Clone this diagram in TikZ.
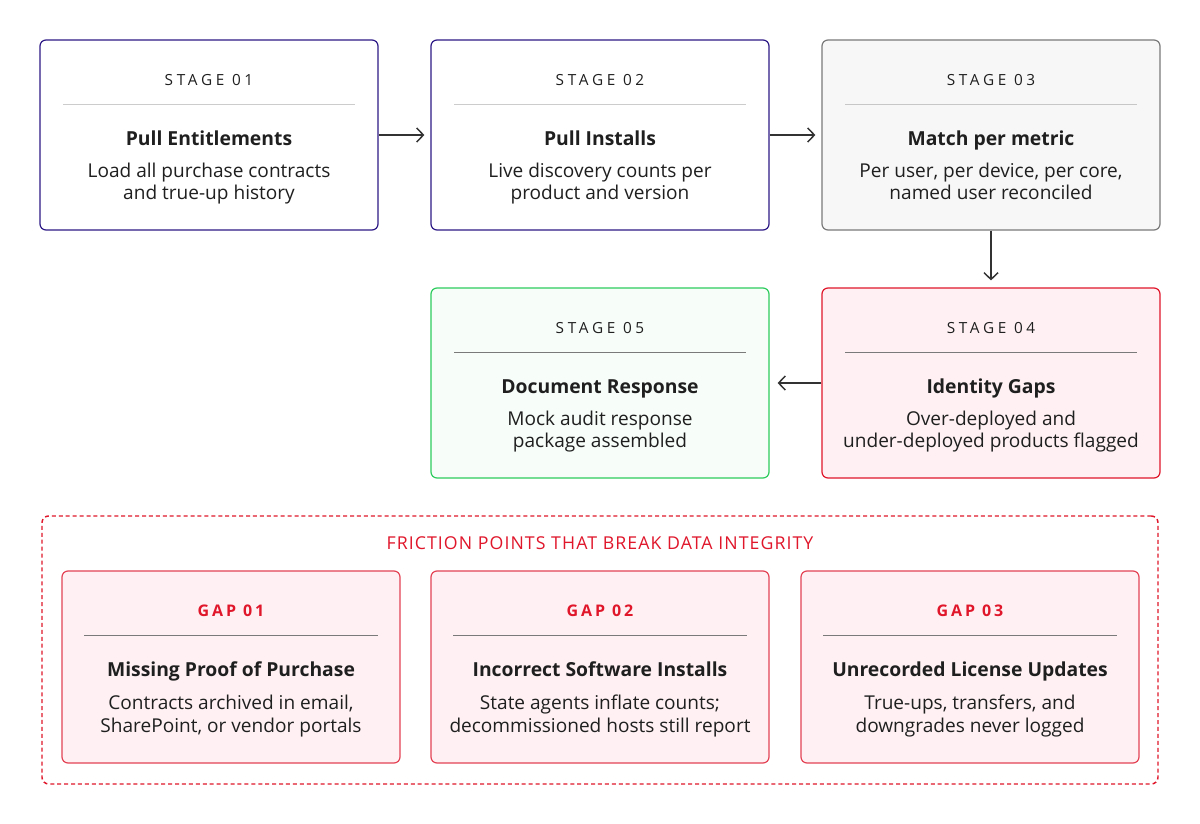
\documentclass[tikz,border=0pt]{standalone}
\usepackage{fontspec}
\setmainfont{Open Sans}
\usetikzlibrary{calc,arrows.meta}
\definecolor{ink}{HTML}{1F1F1F}
\definecolor{indigo}{HTML}{2E1A87}
\definecolor{redc}{HTML}{E0162B}
\definecolor{redb}{HTML}{E34355}
\definecolor{redfill}{HTML}{FFF1F3}
\definecolor{greenc}{HTML}{2ECC5E}
\definecolor{greenfill}{HTML}{F7FDF9}
\definecolor{grayb}{HTML}{7A7A7A}
\definecolor{grayfill}{HTML}{F7F7F7}
\definecolor{arrowc}{HTML}{333333}
\tikzset{
  x=0.75pt,y=-0.75pt,
  stagebox/.style={draw, rounded corners=4.5pt, minimum width=253.5pt, minimum height=142.5pt, line width=0.9pt, inner sep=0pt},
  gapbox/.style={draw=redb, fill=redfill, rounded corners=4.5pt, minimum width=253.5pt, minimum height=144pt, line width=0.9pt, inner sep=0pt},
  lab/.style={text=ink, font=\fontsize{11.5}{12}\selectfont\addfontfeature{LetterSpace=24}, inner sep=0pt, anchor=base},
  gaplab/.style={text=redc, font=\fontsize{12}{12}\selectfont\bfseries\addfontfeature{LetterSpace=18}, inner sep=0pt, anchor=base},
  ttl/.style={text=ink, font=\fontsize{14.5}{15}\selectfont\bfseries, inner sep=0pt, anchor=base},
  desc/.style={text=ink, font=\fontsize{14.3}{16.5}\selectfont, inner sep=0pt, anchor=base},
  sep/.style={line width=0.6pt},
  arr/.style={draw=arrowc, line width=1.1pt, -{Straight Barb[length=5pt,width=10.5pt,line width=1.1pt]}},
}
\newcommand\stg[8]{%
  \node[stagebox,#3] (#1) at #2 {};
  \node[lab] (#1l) at ($(#1.center)+(0,-50)$) {#4};
  \draw[sep,draw=#8] ($(#1.center)+(-146,-31)$) -- ($(#1.center)+(146,-31)$);
  \node[ttl] (#1t) at ($(#1.center)+(0,10)$) {#5};
  \node[desc] (#1d) at ($(#1.center)+(0,42)$) {#6};
  \node[desc] (#1e) at ($(#1.center)+(0,64)$) {#7};
}
\newcommand\gp[6]{%
  \node[gapbox] (#1) at #2 {};
  \node[gaplab] (#1l) at ($(#1.center)+(0,-51)$) {#3};
  \draw[sep,draw=grayb] ($(#1.center)+(-147,-32)$) -- ($(#1.center)+(147,-32)$);
  \node[ttl] (#1t) at ($(#1.center)+(0,9)$) {#4};
  \node[desc] (#1d) at ($(#1.center)+(0,42)$) {#5};
  \node[desc] (#1e) at ($(#1.center)+(0,65)$) {#6};
}
\begin{document}
\begin{tikzpicture}
\useasboundingbox[fill=white] (0,0) rectangle (1200,824);
\stg{s1}{(209,135)}{draw=indigo,fill=white}{STAGE 01}{Pull Entitlements}{Load all purchase contracts}{and true-up history}{black!20}
\stg{s2}{(600,135)}{draw=indigo,fill=white}{STAGE 02}{Pull Installs}{Live discovery counts per}{product and version}{black!20}
\stg{s3}{(991,135)}{draw=grayb,fill=grayfill}{STAGE 03}{Match per metric}{Per user, per device, per core,}{named user reconciled}{black!22}
\stg{s4}{(991,383)}{draw=redc,fill=redfill}{STAGE 04}{Identity Gaps}{Over-deployed and}{under-deployed products flagged}{grayb}
\stg{s5}{(600,383)}{draw=greenc,fill=greenfill}{STAGE 05}{Document Response}{Mock audit response}{package assembled}{grayb}
\draw[arr] (s1.east) -- ([xshift=-4.5pt]s2.west);
\draw[arr] (s2.east) -- ([xshift=-4.5pt]s3.west);
\draw[arr] (s3.south) -- ([yshift=5.25pt]s4.north);
\draw[arr] (s4.west) -- ([xshift=6pt]s5.east);
\node[draw=redc, line width=1.1pt, dash pattern=on 3pt off 2.2pt, rounded corners=5pt, minimum width=837pt, minimum height=201pt, inner sep=0pt] (fr) at (600,650) {};
\node[text=redc, font=\fontsize{13.3}{13}\selectfont\addfontfeature{LetterSpace=6}, inner sep=0pt, anchor=base] (frt) at (600,549) {FRICTION POINTS THAT BREAK DATA INTEGRITY};
\gp{g1}{(231,667)}{GAP 01}{Missing Proof of Purchase}{Contracts archived in email,}{SharePoint, or vendor portals}
\gp{g2}{(600,667)}{GAP 02}{Incorrect Software Installs}{State agents inflate counts;}{decommissioned hosts still report}
\gp{g3}{(970,667)}{GAP 03}{Unrecorded License Updates}{True-ups, transfers, and}{downgrades never logged}
\end{tikzpicture}
\end{document}
